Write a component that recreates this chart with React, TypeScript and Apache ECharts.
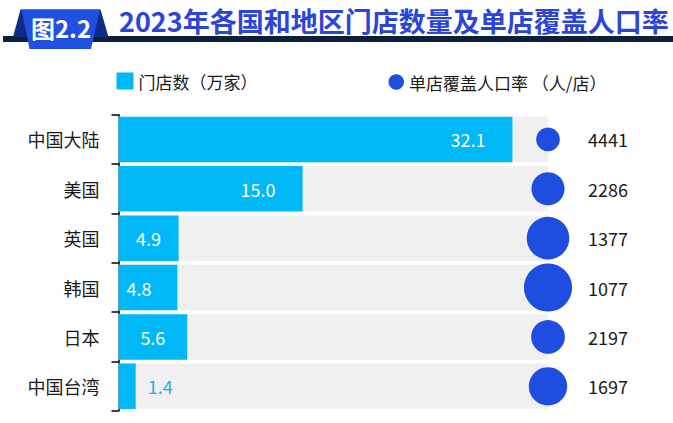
import React, { useEffect, useRef } from "react";
import * as echarts from "echarts";

const categories = ["中国大陆", "美国", "英国", "韩国", "日本", "中国台湾"];
const storeCounts = [32.1, 15.0, 4.9, 4.8, 5.6, 1.4];
const populationPerStore = [4441, 2286, 1377, 1077, 2197, 1697];
const axisMax = 35;

const barName = "门店数（万家）";
const dotName = "单店覆盖人口率 （人/店）";
const titleText = "2023年各国和地区门店数量及单店覆盖人口率";
const figureTag = "图2.2";

const FONT = '"Noto Sans CJK SC", "Noto Sans", sans-serif';

const labelStyles: any[] = [
  { position: "insideRight", distance: 27, color: "#ffffff" },
  { position: "insideRight", distance: 27, color: "#ffffff" },
  { position: "inside", color: "#ffffff" },
  { position: "insideLeft", distance: 8, color: "#ffffff" },
  { position: "inside", color: "#ffffff" },
  { position: "right", distance: 12, color: "#1aaeea" },
];

export default function App() {
  const ref = useRef<HTMLDivElement>(null);
  useEffect(() => {
    if (!ref.current) return;
    const chart = echarts.init(ref.current, null, { renderer: "svg" });
    chart.setOption({
      animation: false,
      backgroundColor: "#ffffff",
      textStyle: { fontFamily: FONT },
      graphic: [
        {
          type: "rect",
          shape: { x: 3, y: 36, width: 670, height: 6 },
          style: { fill: "#0c2139" },
          z: 1,
        },
        {
          type: "polygon",
          shape: { points: [[20.5, 9.5], [100.5, 9.5], [108.5, 37], [13, 37]] },
          style: { fill: "#0d2c86" },
          z: 2,
        },
        {
          type: "polygon",
          shape: { points: [[21.5, 9.5], [100, 9.5], [91, 49], [29.5, 49]] },
          style: { fill: "#2150e0" },
          z: 3,
        },
        {
          type: "text",
          x: 61,
          y: 27,
          style: {
            text: figureTag,
            fill: "#ffffff",
            font: `bold 24px ${FONT}`,
            align: "center",
            verticalAlign: "middle",
          },
          z: 4,
        },
        {
          type: "text",
          x: 119,
          y: 20.5,
          style: {
            text: titleText,
            fill: "#2a45d8",
            font: `bold 27px ${FONT}`,
            align: "left",
            verticalAlign: "middle",
          },
          z: 4,
        },
      ],
      legend: [
        {
          data: [barName],
          left: 116.5,
          top: 72.5,
          padding: 0,
          itemWidth: 17,
          itemHeight: 17,
          icon: "rect",
          textStyle: { fontSize: 17, color: "#1a1a1a", fontFamily: FONT },
        },
        {
          data: [dotName],
          left: 388.5,
          top: 73.5,
          padding: 0,
          itemWidth: 15.5,
          itemHeight: 15.5,
          icon: "circle",
          textStyle: { fontSize: 17, color: "#1a1a1a", fontFamily: FONT },
        },
      ],
      grid: { left: 118.5, right: 125, top: 114.7, bottom: 12, containLabel: false },
      xAxis: {
        type: "value",
        min: 0,
        max: axisMax,
        show: false,
      },
      yAxis: [
        {
          type: "category",
          data: categories,
          inverse: true,
          boundaryGap: true,
          axisLine: { show: true, lineStyle: { color: "#000000", width: 1.5 } },
          axisTick: { show: true, length: 7, lineStyle: { color: "#000000", width: 1.5 } },
          axisLabel: { fontSize: 18, color: "#1a1a1a", margin: 19, fontFamily: FONT },
        },
        {
          type: "category",
          data: populationPerStore.map((v) => String(v)),
          inverse: true,
          position: "right",
          axisLine: { show: false },
          axisTick: { show: false },
          axisLabel: { fontSize: 18, color: "#1a1a1a", margin: 40, fontFamily: FONT },
        },
      ],
      series: [
        {
          name: barName,
          type: "bar",
          yAxisIndex: 0,
          barWidth: 45.5,
          showBackground: true,
          backgroundStyle: { color: "#f0f0f0" },
          itemStyle: { color: "#00b8f5" },
          label: {
            show: true,
            fontSize: 18,
            fontFamily: FONT,
            formatter: (p: any) => Number(p.value).toFixed(1),
          },
          data: storeCounts.map((v, i) => ({ value: v, label: labelStyles[i] })),
          z: 2,
        },
        {
          name: dotName,
          type: "scatter",
          yAxisIndex: 0,
          clip: false,
          symbol: "circle",
          symbolSize: (val: any) => 1580 / Math.sqrt(val[2]),
          itemStyle: { color: "#1f4ddf", opacity: 1 },
          data: populationPerStore.map((v, i) => [axisMax, categories[i], v]),
          z: 5,
        },
      ],
    });
    return () => chart.dispose();
  }, []);
  return (
    <div
      ref={ref}
      style={{ position: "fixed", left: 0, top: 0, width: 673, height: 423 }}
    />
  );
}
